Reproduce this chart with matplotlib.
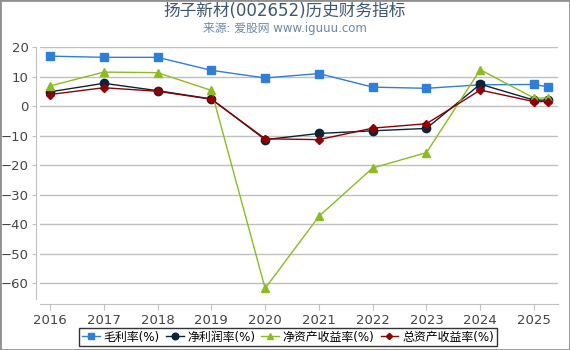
import matplotlib
matplotlib.use('Agg')
import matplotlib.pyplot as plt
from matplotlib.patches import Rectangle

plt.rcParams['font.family'] = ['DejaVu Sans', 'Noto Sans CJK SC']

# 数据 (年份, 最后一个点为2025年的下一期)
anos = [2016, 2017, 2018, 2019, 2020, 2021, 2022, 2023, 2024, 2025, 2025.26]
anos_ticks = [2016, 2017, 2018, 2019, 2020, 2021, 2022, 2023, 2024, 2025]
maolilv = [16.9, 16.5, 16.5, 12.1, 9.5, 11.0, 6.4, 6.0, 7.2, 7.3, 6.5]
jinglirunlv = [4.8, 7.7, 5.2, 2.4, -11.4, -9.3, -8.4, -7.6, 7.4, 2.0, 2.0]
roe = [6.8, 11.5, 11.3, 5.3, -61.8, -37.4, -21.0, -15.8, 12.3, 2.7, 2.7]
roa = [3.9, 6.2, 5.0, 2.3, -11.1, -11.4, -7.5, -6.0, 5.4, 1.5, 1.5]
nomes = ['毛利率(%)', '净利润率(%)', '净资产收益率(%)', '总资产收益率(%)']

fig = plt.figure(figsize=(5.7, 3.5), dpi=100)
ax = fig.add_axes([40 / 570, 1 - 304 / 350, 518 / 570, 257 / 350])

ax.plot(anos, maolilv, color='#2f7ed8', marker='s', markersize=6, lw=1, label=nomes[0])
ax.plot(anos, jinglirunlv, color='#0d233a', marker='o', markersize=6, lw=1, label=nomes[1])
ax.plot(anos, roe, color='#8bbc21', marker='^', markersize=6, lw=1, label=nomes[2])
ax.plot(anos, roa, color='#910000', marker='D', markersize=4, lw=1, label=nomes[3])

ax.set_xlim(2015.814, 2025.446)
ax.set_ylim(-67.1, 20)
ax.set_yticks([20, 10, 0, -10, -20, -30, -40, -50, -60])
ax.set_xticks(anos_ticks)
ax.grid(axis='y', color='#c0c0c0', lw=1)
ax.set_axisbelow(True)
for s in ['top', 'right']:
    ax.spines[s].set_visible(False)
ax.spines['left'].set_position(('outward', 3))
ax.spines['left'].set_bounds(-65.5, 20)
ax.spines['left'].set_color('#c0c0c0')
ax.spines['bottom'].set_color('#c0c0c0')
ax.tick_params(axis='both', colors='#c0c0c0', labelcolor='#444444', labelsize=9.5, length=4)
ax.tick_params(axis='y', length=3, pad=2)

fig.text(0.5, 0.968, '扬子新材(002652)历史财务指标', ha='center', va='center',
         fontsize=12, color='#3e576f')
fig.text(0.5, 0.918, '来源: 爱股网 www.iguuu.com', ha='center', va='center',
         fontsize=8.5, color='#6d87a6')

leg = fig.legend(loc='center', bbox_to_anchor=(288 / 570, 1 - 337 / 350), ncol=4,
                 fontsize=8.6, frameon=True, fancybox=False, handlelength=1.5,
                 handletextpad=0.3, columnspacing=0.5, borderpad=0.25, markerscale=0.8)
leg.get_frame().set_edgecolor('black')
leg.get_frame().set_linewidth(1)

fig.patches.append(Rectangle((0, 0), 1, 1, transform=fig.transFigure, fill=False,
                             edgecolor='#909090', lw=2))

fig.savefig('out.png', dpi=100)
